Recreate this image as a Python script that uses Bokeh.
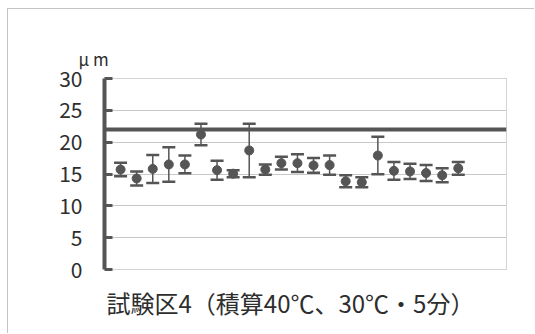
from bokeh.plotting import figure
from bokeh.models import (Range1d, FixedTicker, Span, Whisker, TeeHead,
                          ColumnDataSource, Title)
from bokeh.embed import file_html
from bokeh.resources import INLINE

# ---- data ----
samples = list(range(1, 23))
means = [15.7, 14.3, 15.8, 16.5, 16.5, 21.2, 15.6, 15.05, 18.7, 15.7, 16.7,
         16.7, 16.35, 16.4, 13.85, 13.7, 17.9, 15.5, 15.4, 15.15, 14.8, 15.9]
errors = [1.05, 1.1, 2.2, 2.7, 1.4, 1.7, 1.5, 0.55, 4.2, 0.8, 1.0,
          1.4, 1.15, 1.5, 0.95, 0.8, 2.95, 1.4, 1.2, 1.25, 1.1, 1.0]
reference_value = 22
y_ticks = [0, 5, 10, 15, 20, 25, 30]
unit_text = "μ m"
title_text = "試験区4（積算40℃、30℃・5分）"

upper = [m + e for m, e in zip(means, errors)]
lower = [m - e for m, e in zip(means, errors)]
src = ColumnDataSource(dict(x=samples, y=means, upper=upper, lower=lower))

DARK = "#555555"
TEXT = "#2e2e2e"
FONT = "Noto Sans CJK JP"

p = figure(width=527, height=325, output_backend="svg", toolbar_location=None,
           x_range=Range1d(0, 25), y_range=Range1d(0, 30),
           min_border_left=96, min_border_right=29, min_border_top=69,
           min_border_bottom=65)
p.styles = {"margin-left": "7px", "margin-top": "8px",
            "border-left": "1px solid #c4c4c4", "border-top": "1px solid #c4c4c4"}

p.outline_line_color = "#a8a8a8"
p.outline_line_dash = "1 1"
p.outline_line_width = 1

p.xaxis.visible = False
p.xgrid.visible = False

p.yaxis.ticker = FixedTicker(ticks=y_ticks)
p.yaxis.minor_tick_line_color = None
p.yaxis.axis_line_color = DARK
p.yaxis.axis_line_width = 4
p.yaxis.major_tick_line_color = DARK
p.yaxis.major_tick_line_width = 3
p.yaxis.major_tick_in = 8
p.yaxis.major_tick_out = 0
p.yaxis.major_label_standoff = 22
p.yaxis.major_label_text_font = FONT
p.yaxis.major_label_text_font_size = "21px"
p.yaxis.major_label_text_color = TEXT

p.ygrid.grid_line_color = "#c8c8c8"
p.ygrid.grid_line_width = 1

p.add_layout(Span(location=reference_value, dimension="width",
                  line_color=DARK, line_width=4))

head = dict(size=13, line_color=DARK, line_width=2.5)
p.add_layout(Whisker(source=src, base="x", upper="upper", lower="lower",
                     line_color=DARK, line_width=1.5,
                     upper_head=TeeHead(**head), lower_head=TeeHead(**head)))

p.scatter("x", "y", source=src, size=9, fill_color=DARK, line_color=DARK)

p.add_layout(Title(text=unit_text, align="left", offset=-26, standoff=16,
                   text_font=FONT, text_font_size="17px",
                   text_font_style="normal", text_color=TEXT), "above")
p.add_layout(Title(text=title_text, align="left", offset=2, standoff=26,
                   text_font=FONT, text_font_size="24px",
                   text_font_style="normal", text_color=TEXT), "below")

open("out.html", "w").write(file_html(p, INLINE))
